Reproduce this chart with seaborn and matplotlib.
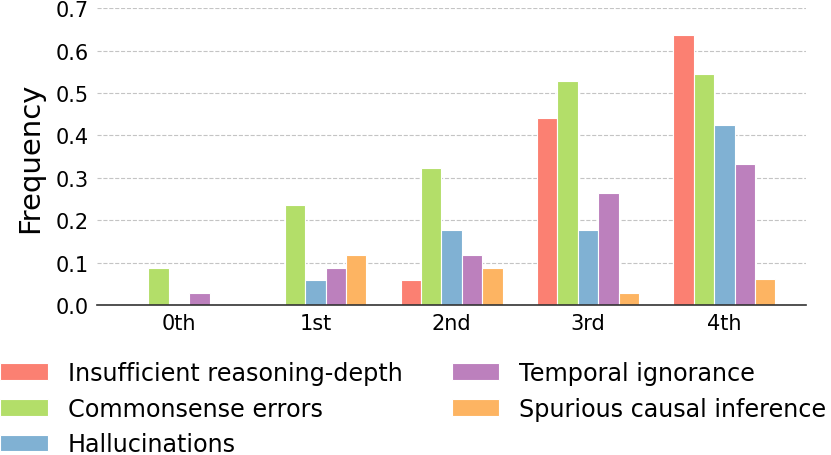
import matplotlib
matplotlib.use("Agg")
import matplotlib.pyplot as plt
import seaborn as sns
import pandas as pd

categories = ["0th", "1st", "2nd", "3rd", "4th"]
series_names = ["Insufficient reasoning-depth", "Commonsense errors", "Hallucinations",
                "Temporal ignorance", "Spurious causal inference"]
insufficient = [0.0, 0.0, 0.059, 0.441, 0.636]
commonsense = [0.088, 0.235, 0.324, 0.529, 0.545]
hallucinations = [0.0, 0.059, 0.176, 0.176, 0.424]
temporal = [0.029, 0.088, 0.118, 0.265, 0.333]
spurious = [0.0, 0.118, 0.088, 0.029, 0.061]
colors = ["#fb8072", "#b3de69", "#80b1d3", "#bc80bd", "#fdb462"]

rows = []
for name, vals in zip(series_names, [insufficient, commonsense, hallucinations, temporal, spurious]):
    for c, v in zip(categories, vals):
        rows.append({"Order": c, "Type": name, "Frequency": v})
df = pd.DataFrame(rows)

sns.set_style("white")
plt.rcParams['font.family'] = ['DejaVu Sans']
plt.rcParams['text.color'] = 'black'
plt.rcParams['xtick.color'] = 'black'
plt.rcParams['ytick.color'] = 'black'
plt.rcParams['axes.labelcolor'] = 'black'

fig = plt.figure(figsize=(8.31, 4.56), dpi=100)
ax = fig.add_axes([0.117, 0.329, 0.853, 0.651])
sns.barplot(data=df, x="Order", y="Frequency", hue="Type", hue_order=series_names,
            order=categories, palette=colors, width=0.75, edgecolor="white",
            linewidth=0.8, ax=ax, errorbar=None, saturation=1)

ax.set_ylim(0, 0.7)
ax.set_xlim(-0.6, 4.6)
ax.set_yticks([0.0, 0.1, 0.2, 0.3, 0.4, 0.5, 0.6, 0.7])
ax.set_yticklabels(["0.0", "0.1", "0.2", "0.3", "0.4", "0.5", "0.6", "0.7"])
ax.yaxis.grid(True, linestyle="--", color="#c4c4c4", linewidth=0.8)
ax.set_axisbelow(True)
for s in ["top", "right", "left"]:
    ax.spines[s].set_visible(False)
ax.spines["bottom"].set_color("#333333")
ax.spines["bottom"].set_linewidth(1.2)
ax.tick_params(axis="both", labelsize=15, length=0, pad=6)
ax.set_xlabel("")
ax.set_ylabel("Frequency", fontsize=21, labelpad=8)

handles, labels = ax.get_legend_handles_labels()
ax.get_legend().remove()
fig.legend(handles, labels, loc="upper left", bbox_to_anchor=(0.0, 0.207), ncol=2,
           frameon=False, fontsize=17.2, handlelength=2.0, handleheight=0.7,
           handletextpad=0.84, columnspacing=2.05, labelspacing=0.5,
           borderaxespad=0, borderpad=0)

fig.savefig("out.png", dpi=100)
